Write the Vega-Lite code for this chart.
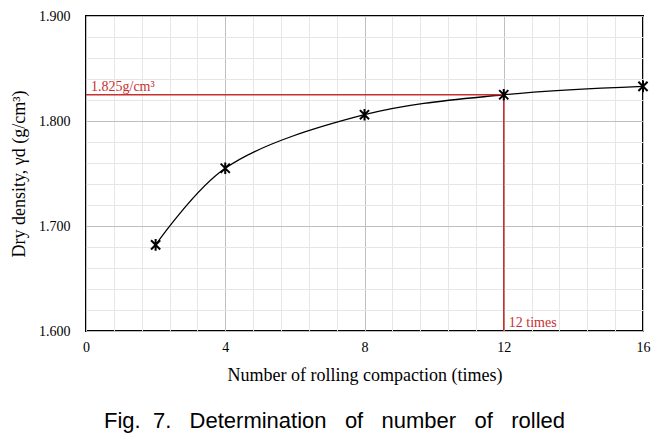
{
  "$schema": "https://vega.github.io/schema/vega-lite/v6.json",
  "width": 557,
  "height": 315,
  "autosize": {"type": "none"},
  "padding": {"left": 86, "top": 16, "right": 25, "bottom": 114},
  "background": "white",
  "title": {
    "text": "Fig.\u00a0\u00a07.\u00a0\u00a0\u00a0Determination\u00a0\u00a0\u00a0of\u00a0\u00a0\u00a0number\u00a0\u00a0\u00a0of\u00a0\u00a0\u00a0rolled",
    "orient": "bottom",
    "anchor": "middle",
    "frame": "group",
    "dx": -30,
    "offset": 27,
    "font": "Liberation Sans",
    "fontSize": 22,
    "fontWeight": "normal",
    "color": "#000"
  },
  "config": {
    "view": {"stroke": "#000", "strokeWidth": 2},
    "axis": {
      "labelFont": "Liberation Serif",
      "titleFont": "Liberation Serif",
      "labelColor": "#000",
      "titleColor": "#000",
      "titleFontWeight": "normal",
      "ticks": false,
      "domain": false,
      "labelFlush": false
    }
  },
  "datasets": {
    "pts": [
      {"n": 2, "d": 1.682},
      {"n": 4, "d": 1.755},
      {"n": 8, "d": 1.806},
      {"n": 12, "d": 1.825},
      {"n": 16, "d": 1.833}
    ],
    "guide": [
      {"x1": 0, "x2": 12, "y1": 1.825, "y2": 1.825},
      {"x1": 12, "x2": 12, "y1": 1.6, "y2": 1.825}
    ],
    "notes": [
      {"x": 0, "y": 1.825, "label": "1.825g/cm³"},
      {"x": 12, "y": 1.6, "label": "12 times"}
    ]
  },
  "resolve": {"axis": {"x": "independent", "y": "independent"}},
  "layer": [
    {
      "data": {"name": "pts"},
      "mark": {"type": "line", "interpolate": "catmull-rom", "color": "#000", "strokeWidth": 1.3},
      "encoding": {
        "x": {
          "field": "n", "type": "quantitative",
          "scale": {"domain": [0, 16], "nice": false, "zero": false},
          "axis": {"orient": "bottom", "values": [0.8, 1.6, 2.4, 3.2, 4.8, 5.6, 6.4, 7.2, 8.8, 9.6, 10.4, 11.2, 12.8, 13.6, 14.4, 15.2], "grid": true, "gridColor": "#e6e6e6", "labels": false, "title": null}
        },
        "y": {
          "field": "d", "type": "quantitative",
          "scale": {"domain": [1.6, 1.9], "nice": false, "zero": false},
          "axis": {"orient": "left", "values": [1.62, 1.64, 1.66, 1.68, 1.72, 1.74, 1.76, 1.78, 1.82, 1.84, 1.86, 1.88], "grid": true, "gridColor": "#e6e6e6", "labels": false, "title": null}
        }
      }
    },
    {
      "data": {"name": "guide"},
      "mark": {"type": "rule", "color": "#c8302f", "strokeWidth": 1.5},
      "encoding": {
        "x": {"field": "x1", "type": "quantitative", "axis": null},
        "x2": {"field": "x2"},
        "y": {"field": "y1", "type": "quantitative", "axis": null},
        "y2": {"field": "y2"}
      }
    },
    {
      "data": {"name": "pts"},
      "mark": {"type": "point", "shape": "M-0.75,-0.75L0.75,0.75M-0.75,0.75L0.75,-0.75M0,-0.95L0,0.95", "filled": false, "stroke": "#000", "strokeWidth": 2, "size": 150, "opacity": 1},
      "encoding": {
        "x": {
          "field": "n", "type": "quantitative",
          "axis": {"orient": "bottom", "values": [0, 4, 8, 12, 16], "grid": true, "gridColor": "#bfbfbf", "labelFontSize": 14, "labelPadding": 9, "title": "Number of rolling compaction (times)", "titleFontSize": 18, "titlePadding": 12}
        },
        "y": {
          "field": "d", "type": "quantitative",
          "axis": {"orient": "left", "values": [1.6, 1.7, 1.8, 1.9], "format": ".3f", "grid": true, "gridColor": "#bfbfbf", "labelFontSize": 14, "labelPadding": 16, "title": "Dry density, γd\u00a0(g/cm³)", "titleFontSize": 18, "titlePadding": 10}
        }
      }
    },
    {
      "data": {"name": "notes"},
      "mark": {"type": "text", "align": "left", "baseline": "alphabetic", "dx": 5, "dy": -4, "font": "Liberation Serif", "fontSize": 14, "color": "#c8302f"},
      "encoding": {
        "x": {"field": "x", "type": "quantitative", "axis": null},
        "y": {"field": "y", "type": "quantitative", "axis": null},
        "text": {"field": "label"}
      }
    }
  ]
}
